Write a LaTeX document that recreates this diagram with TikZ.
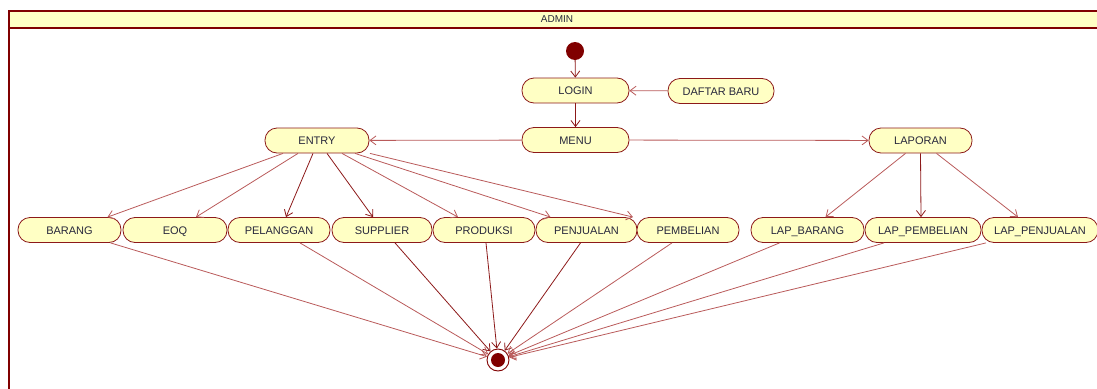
\documentclass[tikz,border=0pt]{standalone}
\usepackage{fontspec}
\setmainfont{Liberation Sans}
\usetikzlibrary{arrows.meta}
\definecolor{maroon}{RGB}{128,0,0}
\definecolor{edgec}{RGB}{140,25,25}
\definecolor{edgel}{RGB}{185,90,90}
\definecolor{fillc}{RGB}{255,255,196}
\definecolor{txt}{RGB}{40,40,60}
\tikzset{
  act/.style={draw=edgec, line width=0.8pt, fill=fillc, rounded corners=12pt,
    minimum height=25pt, inner sep=0pt, text=txt, text height=8pt, text depth=0pt,
    font=\fontsize{11}{11}\selectfont},
  flow/.style={draw=edgec, line width=0.8pt, -{Straight Barb[length=6pt,width=9pt]}},
  flowl/.style={draw=edgel, line width=0.8pt, -{Straight Barb[length=6pt,width=9pt]}},
}
\begin{document}
\begin{tikzpicture}[x=1pt,y=-1pt]
\useasboundingbox (0,0) rectangle (1097,388);
% swimlane frame
\fill[fillc] (9,11) rectangle (1100,28);
\draw[maroon, line width=1.6pt] (9,400) -- (9,11) -- (1100,11);
\draw[maroon, line width=1.6pt] (9,28) -- (1100,28);
\node[font=\fontsize{10}{10}\selectfont, text=txt, text height=7pt, text depth=0pt] (lane) at (557,19.5) {ADMIN};

% start / end
\node[circle, fill=maroon, minimum size=18pt, inner sep=0pt] (start) at (575,51) {};
\node[circle, draw=maroon, line width=0.9pt, fill=white, minimum size=22pt, inner sep=0pt] (end) at (498,360) {};
\node[circle, fill=maroon, minimum size=14pt, inner sep=0pt] (endin) at (498,360) {};

% activities
\node[act, minimum width=107pt] (login) at (575.5,90.5) {LOGIN};
\node[act, minimum width=106pt] (daftar) at (721,91) {DAFTAR BARU};
\node[act, minimum width=107pt] (menu) at (575.5,140) {MENU};
\node[act, minimum width=104pt] (entry) at (317,140.5) {ENTRY};
\node[act, minimum width=103pt] (laporan) at (920.5,140.5) {LAPORAN};

\node[act, minimum width=103pt] (barang) at (69.5,230) {BARANG};
\node[act, minimum width=104pt] (eoq) at (175,230) {EOQ};
\node[act, minimum width=102pt] (pelanggan) at (279,230) {PELANGGAN};
\node[act, minimum width=100pt] (supplier) at (382,230) {SUPPLIER};
\node[act, minimum width=102pt] (produksi) at (484,230) {PRODUKSI};
\node[act, minimum width=101pt] (penjualan) at (586.5,230) {PENJUALAN};
\node[act, minimum width=102pt] (pembelian) at (688,230) {PEMBELIAN};
\node[act, minimum width=113pt] (lapbarang) at (807.5,230) {LAP\_BARANG};
\node[act, minimum width=116pt] (lappembelian) at (923,230) {LAP\_PEMBELIAN};
\node[act, minimum width=116pt] (lappenjualan) at (1040,230) {LAP\_PENJUALAN};

% top flow
\draw[flow] (start) -- (login);
\draw[flow] (login) -- (menu);
\draw[flowl] (daftar) -- (login);
\draw[flowl] (menu) -- (entry);
\draw[flowl] (menu) -- (laporan);

% entry branches
\draw[flowl] ([xshift=-34pt]entry.south) -- ([xshift=38pt]barang.north);
\draw[flowl] ([xshift=-19pt]entry.south) -- ([xshift=21pt]eoq.north);
\draw[flow]  ([xshift=-4pt]entry.south) -- ([xshift=7pt]pelanggan.north);
\draw[flow]  ([xshift=10pt]entry.south) -- ([xshift=-9pt]supplier.north);
\draw[flowl] ([xshift=25pt]entry.south) -- ([xshift=-26pt]produksi.north);
\draw[flowl] ([xshift=38pt]entry.south) -- ([xshift=-36pt]penjualan.north);
\draw[flowl] ([xshift=53pt]entry.south) -- ([xshift=-55pt]pembelian.north);

% laporan branches
\draw[flowl] ([xshift=-15pt]laporan.south) -- ([xshift=18pt]lapbarang.north);
\draw[flow]  (laporan.south) -- ([xshift=-2pt]lappembelian.north);
\draw[flowl] ([xshift=16pt]laporan.south) -- ([xshift=-22pt]lappenjualan.north);

% to end
\draw[flowl] ([xshift=41pt]barang.south) -- (end);
\draw[flowl] ([xshift=21pt]pelanggan.south) -- (end);
\draw[flow]  ([xshift=13pt]supplier.south) -- (end);
\draw[flow]  ([xshift=2pt]produksi.south) -- (end);
\draw[flow]  ([xshift=-6pt]penjualan.south) -- (end);
\draw[flowl] ([xshift=-16pt]pembelian.south) -- (end);
\draw[flowl] ([xshift=-28pt]lapbarang.south) -- (end);
\draw[flowl] ([xshift=-39pt]lappembelian.south) -- (end);
\draw[flowl] ([xshift=-54pt]lappenjualan.south) -- (end);
\end{tikzpicture}
\end{document}
